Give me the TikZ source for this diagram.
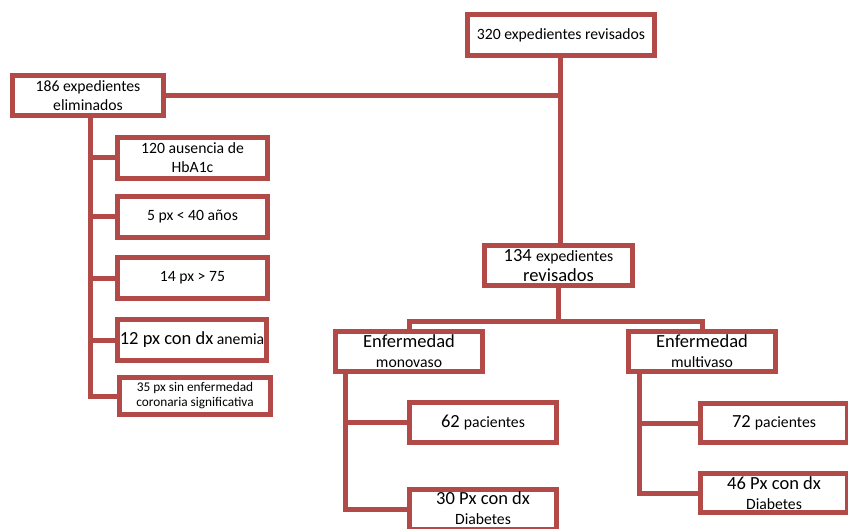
\documentclass[tikz,border=0pt]{standalone}
\usepackage{fontspec}
\setmainfont{Carlito}
\definecolor{bred}{RGB}{178,74,72}
\newcommand\myBase{\fontsize{15.7}{19}\selectfont}
\newcommand\myLarge{\fontsize{18.5}{20}\selectfont}
\newcommand\mySmall{\fontsize{13.3}{15}\selectfont}
\begin{document}
\begin{tikzpicture}[x=1pt,y=-1pt,
  box/.style={draw=bred, line width=5pt, fill=white, inner sep=0pt,
    minimum width=147pt, minimum height=41pt, align=center, font=\myBase},
  link/.style={draw=bred, line width=5pt}]
\useasboundingbox (0,0) rectangle (848,529);
% nodes
\node[box, minimum width=187pt] (top) at (561,35) {320 expedientes revisados};
\node[box, minimum width=151pt, minimum height=40pt] (b186) at (88,95.5) {186 expedientes\\eliminados};
\node[box, minimum width=150pt] (c1) at (192.5,158) {120 ausencia de\\HbA1c};
\node[box, minimum width=150pt] (c2) at (192.5,217) {5 px < 40 años};
\node[box, minimum width=150pt] (c3) at (192.5,278) {14 px > 75};
\node[box, minimum width=149pt] (c4) at (192,340) {{\myLarge 12 px con dx} anemia};
\node[box, minimum width=151pt, minimum height=37pt, font=\mySmall] (c5) at (195,396) {35 px sin enfermedad\\coronaria significativa};
\node[box, minimum width=148pt, minimum height=40pt, font=\myLarge] (b134) at (558.5,265.5) {134 {\myBase expedientes}\\revisados};
\node[box, minimum width=147pt, minimum height=40pt, font=\myLarge] (mono) at (409,351) {Enfermedad\\{\myBase monovaso}};
\node[box, minimum width=147pt, minimum height=40pt, font=\myLarge] (multi) at (702,351) {Enfermedad\\{\myBase multivaso}};
\node[box, minimum height=40pt, font=\myLarge] (p62) at (483,422.5) {62 {\myBase pacientes}};
\node[box, minimum height=40pt, font=\myLarge] (p30) at (483,509.5) {};
\node[font=\myLarge, align=center, inner sep=0pt] (t30) at (483,508.5) {30 Px con dx\\{\myBase Diabetes}};
\node[box, minimum height=39pt, font=\myLarge] (p72) at (774,423) {72 {\myBase pacientes}};
\node[box, minimum height=39pt, font=\myLarge] (p46) at (774,493) {46 Px con dx\\{\myBase Diabetes}};
% connectors
\coordinate (jt) at (560,96);
\draw[link] (top.south -| jt) -- (b134.north -| jt);
\draw[link] (b186.east) -- (b186.east -| jt);
\draw[link] (b186.south) ++(2,0) coordinate (ls) |- (c5.west);
\draw[link] (ls |- c1.west) -- (c1.west);
\draw[link] (ls |- c2.west) -- (c2.west);
\draw[link] (ls |- c3.west) -- (c3.west);
\draw[link] (ls |- c4.west) -- (c4.west);
\coordinate (bar) at (558,321);
\draw[link] (b134.south) -- (b134.south |- bar);
\draw[link] (mono.north) -- (mono.north |- bar) -- (multi.north |- bar) -- (multi.north);
\draw[link] (mono.south west) ++(12.5,0) coordinate (ms) |- (p30.west);
\draw[link] (ms |- p62.west) -- (p62.west);
\draw[link] (multi.south west) ++(13.5,0) coordinate (rs) |- (p46.west);
\draw[link] (rs |- p72.west) -- (p72.west);
\end{tikzpicture}
\end{document}
